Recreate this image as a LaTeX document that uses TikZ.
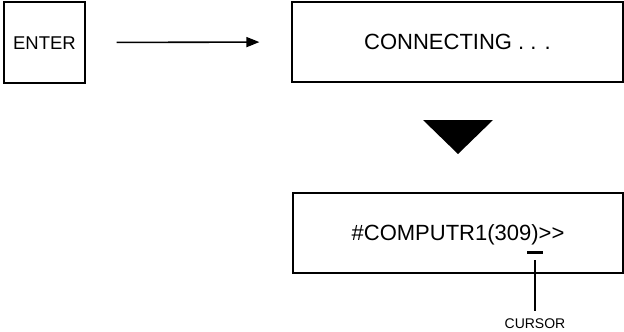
\documentclass[tikz,border=0pt]{standalone}
\usepackage{fontspec}
\setmainfont{Liberation Sans}
\usetikzlibrary{arrows.meta}
\begin{document}
\begin{tikzpicture}[x=1pt,y=-1pt,
  box/.style={draw, line width=1.2pt, inner sep=0pt, text depth=0pt},
  bigtext/.style={font=\fontsize{22}{24}\selectfont, text height=15.75pt},
  flow/.style={line width=1.6pt, -{Triangle[length=13pt,width=10pt]}},
  lead/.style={line width=1.1pt}
]
\useasboundingbox (0,0) rectangle (624,332);
\node[box, minimum width=81pt, minimum height=81pt,
      font=\fontsize{18.5}{20}\selectfont, text height=13.2pt] (enter) at (44.5,42.5) {ENTER};
\node[box, bigtext, minimum width=331pt, minimum height=80pt] (conn) at (457.5,42) {CONNECTING . . .};
\node[box, bigtext, minimum width=330pt, minimum height=80pt] (prompt) at (458,233) {\#COMPUTR1(309)>{}>};
\draw[flow, shorten <=31pt, shorten >=32pt] (enter.east) -- (conn.west);
\fill (423,120) -- (493,120) -- (458,154) -- cycle;
\node[fill, draw=none, minimum width=16pt, minimum height=3.5pt, inner sep=0pt] (bar) at (535,252.5) {};
\node[font=\fontsize{14}{16}\selectfont, inner sep=0pt, text height=10pt, text depth=0pt] (curlabel) at (535,323) {CURSOR};
\draw[lead, shorten <=6pt, shorten >=7pt] (bar.south) -- (curlabel.north);
\end{tikzpicture}
\end{document}
